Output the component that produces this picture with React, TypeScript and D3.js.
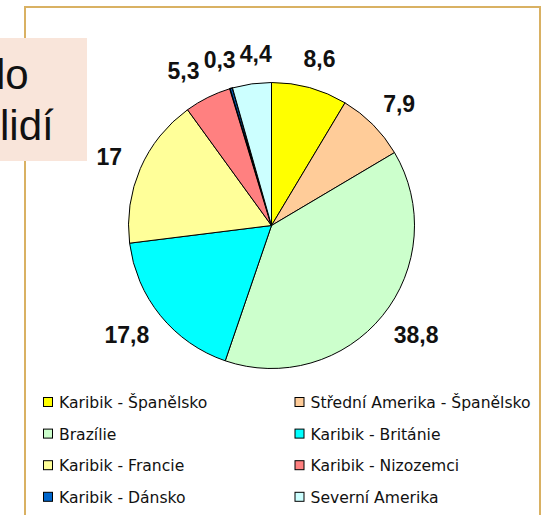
import React from "react";
import * as d3 from "d3";

const categories = [
  "Karibik - Španělsko",
  "Střední Amerika - Španělsko",
  "Brazílie",
  "Karibik - Británie",
  "Karibik - Francie",
  "Karibik - Nizozemci",
  "Karibik - Dánsko",
  "Severní Amerika",
];
const values = [8.6, 7.9, 38.8, 17.8, 17, 5.3, 0.3, 4.4];
const valueLabels = ["8,6", "7,9", "38,8", "17,8", "17", "5,3", "0,3", "4,4"];
const colors = [
  "#FFFF00",
  "#FFCC99",
  "#CCFFCC",
  "#00FFFF",
  "#FFFF99",
  "#FF8080",
  "#0066CC",
  "#CCFFFF",
];
const sideTextLines = ["lo", "lidí"];

const W = 545;
const H = 515;
const CX = 271.5;
const CY = 225.5;
const R = 143;
const LABEL_R = 165;
const LABEL_FS = 23;

function textWidth(s: string, fs: number) {
  let w = 0;
  for (const c of s) w += c === "," ? 0.278 : 0.556;
  return w * fs - 0.08 * fs;
}

export default function App() {
  const pie = d3
    .pie<number>()
    .sort(null)
    .value((d) => d)
    .startAngle(0)
    .endAngle(2 * Math.PI);
  const arcs = pie(values);
  const arcGen = d3.arc<d3.PieArcDatum<number>>().innerRadius(0).outerRadius(R);

  // label boxes placed just outside the pie along each slice's mid angle
  const h = 0.72 * LABEL_FS;
  const boxes = arcs.map((a, i) => {
    const th = (a.startAngle + a.endAngle) / 2;
    const sx = Math.sin(th);
    const sy = -Math.cos(th);
    const w = textWidth(valueLabels[i], LABEL_FS);
    return {
      cx: LABEL_R * sx + (w / 2) * sx,
      cy: LABEL_R * sy + (h / 2) * sy,
      w,
      h,
    };
  });
  // horizontal relaxation to avoid overlapping labels
  const pad = 6;
  for (let it = 0; it < 80; it++) {
    for (let i = 0; i < boxes.length; i++) {
      for (let j = i + 1; j < boxes.length; j++) {
        const a = boxes[i];
        const b = boxes[j];
        const ox = (a.w + b.w) / 2 + pad - Math.abs(a.cx - b.cx);
        const oy = (a.h + b.h) / 2 - Math.abs(a.cy - b.cy);
        if (ox > 0 && oy > 0) {
          const dir = a.cx < b.cx ? -1 : 1;
          a.cx += (dir * ox) / 2;
          b.cx -= (dir * ox) / 2;
        }
      }
    }
  }

  const legendColX = [43, 294.5];
  const legendBase0 = 408;
  const legendStep = 31.6;

  return (
    <svg
      width={W}
      height={H}
      style={{ position: "absolute", left: 0, top: 0, background: "#fff" }}
    >
      <rect
        x={25}
        y={7}
        width={515}
        height={540}
        fill="#fff"
        stroke="#D9B163"
        strokeWidth={2}
      />
      <g transform={`translate(${CX},${CY})`}>
        {arcs.map((a, i) => (
          <path
            key={i}
            d={arcGen(a) || ""}
            fill={colors[i]}
            stroke="#000"
            strokeWidth={i === 6 ? 1.6 : 1}
            strokeLinejoin="round"
          />
        ))}
        {boxes.map((b, i) => (
          <text
            key={i}
            x={b.cx}
            y={b.cy + b.h / 2}
            textAnchor="middle"
            fontFamily="'Liberation Sans', Arial, sans-serif"
            fontWeight="bold"
            fontSize={LABEL_FS}
            fill="#111"
          >
            {valueLabels[i]}
          </text>
        ))}
      </g>
      {categories.map((c, i) => {
        const col = i % 2;
        const row = Math.floor(i / 2);
        const x = legendColX[col];
        const y = legendBase0 + row * legendStep;
        return (
          <g key={c}>
            <rect
              x={x + 0.5}
              y={y - 10.5}
              width={9}
              height={9}
              fill={colors[i]}
              stroke="#000"
              strokeWidth={1}
            />
            <text
              x={x + 16}
              y={y}
              fontFamily="'DejaVu Sans', Verdana, sans-serif"
              fontSize={15.6}
              fill="#111"
            >
              {c}
            </text>
          </g>
        );
      })}
      <rect x={0} y={38} width={87} height={123} fill="#F9E5DA" />
      <text
        x={-4}
        y={89}
        fontFamily="'Liberation Sans', Arial, sans-serif"
        fontSize={42}
        fill="#111"
      >
        {sideTextLines[0]}
      </text>
      <text
        x={0}
        y={140}
        fontFamily="'Liberation Sans', Arial, sans-serif"
        fontSize={42}
        fill="#111"
      >
        {sideTextLines[1]}
      </text>
    </svg>
  );
}
